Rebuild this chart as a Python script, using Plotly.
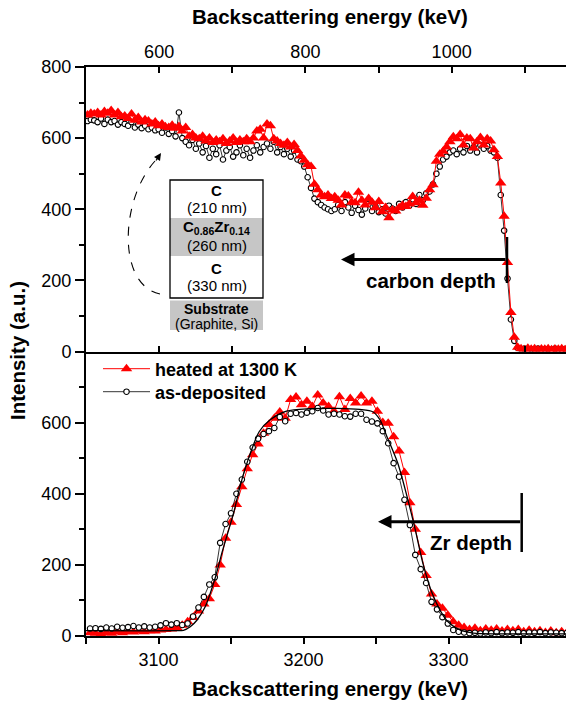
import plotly.graph_objects as go

# ---------------- data ----------------
# top panel (carbon signal); channel energies (keV), ~4.63 keV per channel
top_energy = [502 + 4.6325 * i for i in range(143)]
top_heated = [
    665, 670,
    668, 672, 665, 675, 670, 678, 665, 672, 660,
    662, 655, 668, 650, 658, 645, 652, 648, 640, 645,
    635, 640, 632, 630, 636, 628, 633, 620, 630,
    605, 610, 600,
    598, 605, 592, 600, 588, 595, 590, 598, 585, 592, 600, 588, 595, 590, 598, 590, 600,
    620, 625, 600, 640, 635,
    598, 592, 585, 580, 588, 575, 582, 565,
    550, 538, 525, 520, 470, 455, 440, 435, 440, 430,
    435, 425, 412, 440, 437, 420, 418, 448, 425, 412, 430, 420, 404, 422, 393, 405, 376, 398, 395, 404, 411, 408, 415, 436, 418, 425, 411,
    431, 455, 469, 535, 555, 563, 575, 590, 604,
    598, 610, 581, 600, 598, 572, 590, 602, 581, 598, 592, 567, 548,
    474, 380, 250, 110, 40, 12,
    8, 5, 9, 6, 8, 5, 7, 6, 8, 5, 7, 6, 8, 5, 6,
]
top_asdep = [
    648, 652,
    650, 645, 655, 640, 652, 645, 648, 638, 645,
    640, 635, 645, 630, 638, 628, 635, 625, 630, 622,
    625, 615, 630, 612, 620, 605, 672, 600, 590,
    580, 595, 570,
    585, 560, 578, 545, 570, 555, 580, 540, 565, 575, 548, 560, 580, 552, 570, 545, 565,
    580, 560, 575, 585, 570,
    590, 560, 575, 555, 570, 548, 565, 540,
    535, 520, 490, 460, 430, 420, 412, 405, 400, 395,
    400, 412, 395, 420, 405, 390, 410, 398, 385, 402, 415, 395, 408, 392, 400, 388, 410, 402, 395, 415, 405, 420, 410, 428, 415, 440, 425,
    445, 450, 470, 500, 520, 540, 548, 560, 565,
    555, 570, 560, 578, 565, 575, 560, 580, 570, 578, 565, 560, 545,
    440, 340, 205, 90, 30, 10,
    6, 8, 5, 7, 6, 8, 5, 6, 7, 5, 8, 6, 5, 7, 6,
]

# bottom panel (Zr signal); channel energies (keV), ~3.74 keV per channel
bot_energy = [3052.8 + 3.738 * i for i in range(89)]
bot_heated = [
    9,
    8, 6, 10, 8, 12, 9, 13, 11, 14, 12, 15, 14, 17, 18, 20, 24, 30, 40, 52, 70,
    90, 105, 145, 200, 275, 320, 370, 420, 470, 510, 540, 570, 595, 612, 630, 612,
    665, 672, 650, 660, 645, 678, 655, 645, 632, 673, 637, 668, 655, 675, 655, 660,
    632, 600, 598, 560, 520, 460, 375, 300, 235, 170, 118, 90, 78, 58, 40, 30, 24,
    18, 22, 15, 20, 16, 20, 14, 18, 15, 18, 12, 16, 12, 15, 10, 14, 9, 12,
    10,
]
bot_asdep = [
    21,
    22, 20, 24, 21, 26, 23, 25, 28, 24, 27, 24, 26, 30, 36, 32, 36, 31, 35, 55, 80,
    110, 145, 165, 262, 315, 345, 400, 440, 490, 530, 555, 568, 576, 585, 616, 604,
    625, 627, 623, 628, 632, 641, 634, 623, 625, 623, 618, 617, 625, 625, 608, 603,
    598, 576, 542, 486, 448, 383, 312, 228, 188, 149, 96, 75, 53, 35, 17, 12, 10,
    8, 9, 7, 10, 8, 11, 8, 10, 9, 11, 8, 10, 9, 11, 8, 10, 9, 8,
    9,
]
# simulated spectrum (smooth line)
sim_energy = [3050, 3110.7, 3117.2, 3121.9, 3126.6, 3132.2, 3138.7, 3144.3, 3151.8, 3156.5,
              3163.0, 3169.5, 3177.0, 3188.2, 3204.1, 3222.8, 3238.7, 3248.0, 3252.7, 3257.4,
              3264.9, 3271.4, 3277.0, 3282.6, 3289.2, 3298.5, 3307.9, 3317.2, 3335.0, 3385.0]
sim_counts = [15, 15, 16, 26, 45, 82, 158, 242, 346, 425,
              510, 575, 608, 632, 639, 640, 637, 630, 608, 562,
              487, 392, 300, 200, 115, 45, 17, 8, 6, 6]

top_ticks = [600, 800, 1000]
top_minor = [700, 900, 1100]
bot_ticks = [3100, 3200, 3300]
bot_minor = [3050, 3150, 3250, 3350]
y_ticks_top = [0, 200, 400, 600, 800]
y_ticks_bot = [0, 200, 400, 600]
y_minor = [100, 300, 500, 700]

# ---------------- figure ----------------
W, H = 566, 702
ML, MR, MT, MB = 86, 0, 67, 66
PW, PH = W - ML - MR, H - MT - MB


def PX(x):
    return (x - ML) / PW


def PY(y):
    return (H - MB - y) / PH


RED = "#ff0000"
FONT = "Arial, Liberation Sans, sans-serif"
circle_marker = dict(symbol="circle", size=5.5, color="white", line=dict(width=1.1, color="black"))
tri_marker = dict(symbol="triangle-up", size=10, color=RED)

fig = go.Figure()

# top panel
fig.add_trace(go.Scatter(x=top_energy, y=top_asdep, mode="lines+markers",
                         line=dict(color="black", width=0.8), marker=circle_marker,
                         xaxis="x", yaxis="y", showlegend=False))
fig.add_trace(go.Scatter(x=top_energy, y=top_heated, mode="lines+markers",
                         line=dict(color=RED, width=1), marker=tri_marker,
                         xaxis="x", yaxis="y", showlegend=False))
# bottom panel
fig.add_trace(go.Scatter(x=bot_energy, y=bot_heated, mode="lines+markers",
                         name="<b>heated at 1300 K</b>", legend="legend",
                         line=dict(color=RED, width=1), marker=tri_marker,
                         xaxis="x2", yaxis="y2"))
fig.add_trace(go.Scatter(x=bot_energy, y=bot_asdep, mode="lines+markers",
                         name="<b>as-deposited</b>", legend="legend2",
                         line=dict(color="black", width=0.8), marker=circle_marker,
                         xaxis="x2", yaxis="y2"))
fig.add_trace(go.Scatter(x=sim_energy, y=sim_counts, mode="lines",
                         line=dict(color="black", width=1.3, shape="spline", smoothing=0.8),
                         xaxis="x2", yaxis="y2", showlegend=False))

axis_common = dict(showgrid=False, zeroline=False, showline=True, linecolor="black",
                   tickcolor="black", tickfont=dict(size=18, color="black", family=FONT))

legend_common = dict(xanchor="left", yanchor="middle", bgcolor="rgba(0,0,0,0)",
                     font=dict(size=18, color="black", family=FONT), itemwidth=47)

fig.update_layout(
    width=W, height=H,
    margin=dict(l=ML, r=MR, t=MT, b=MB),
    paper_bgcolor="white", plot_bgcolor="white",
    font=dict(family=FONT, color="black"),
    xaxis=dict(domain=[0, 1], anchor="y", side="top", range=[500, 1156.4],
               tickvals=top_ticks, ticks="inside", ticklen=6, tickwidth=1.5, linewidth=2,
               mirror="ticks",
               minor=dict(tickvals=top_minor, ticks="inside", ticklen=6,
                          tickwidth=1.5, tickcolor="black"),
               **axis_common),
    yaxis=dict(domain=[0.5, 1], anchor="x", range=[0, 800], tickvals=y_ticks_top,
               ticks="outside", ticklen=9, tickwidth=1.5, linewidth=2,
               minor=dict(tickvals=y_minor, ticks="outside", ticklen=5,
                          tickwidth=1.5, tickcolor="black"),
               **axis_common),
    xaxis2=dict(domain=[0, 1], anchor="y2", range=[3050, 3381], tickvals=bot_ticks,
                ticks="outside", ticklen=6, tickwidth=1.5, linewidth=2,
                minor=dict(tickvals=bot_minor, ticks="outside", ticklen=6,
                           tickwidth=1.5, tickcolor="black"),
                **axis_common),
    yaxis2=dict(domain=[0, 0.5], anchor="x2", range=[0, 800], tickvals=y_ticks_bot,
                ticks="outside", ticklen=9, tickwidth=1.5, linewidth=2,
                minor=dict(tickvals=y_minor, ticks="outside", ticklen=5,
                           tickwidth=1.5, tickcolor="black"),
                **axis_common),
    legend=dict(x=PX(98), y=PY(369), **legend_common),
    legend2=dict(x=PX(98), y=PY(392), **legend_common),
)

shapes = []
annotations = []


def label(text, x, y, size, **kw):
    d = dict(text=text, x=PX(x), y=PY(y), xref="paper", yref="paper", showarrow=False,
             xanchor="center", yanchor="middle", font=dict(size=size, color="black", family=FONT))
    d.update(kw)
    annotations.append(d)


# axis titles
label("<b>Backscattering energy (keV)</b>", 330, 17, 20.5)
label("<b>Backscattering energy (keV)</b>", 330, 688, 20.5)
label("<b>Intensity (a.u.)</b>", 17, 351, 20.5, textangle=-90)

# carbon depth arrow
shapes.append(dict(type="line", xref="paper", yref="paper", x0=PX(507), x1=PX(507),
                   y0=PY(237), y1=PY(283), line=dict(color="black", width=2.5)))
annotations.append(dict(text="", x=PX(341), y=PY(259.5), xref="paper", yref="paper",
                        ax=166, ay=0, showarrow=True, arrowhead=2, arrowsize=0.9,
                        arrowwidth=3, arrowcolor="black"))
label("<b>carbon depth</b>", 431, 280, 20.5)

# Zr depth arrow
shapes.append(dict(type="line", xref="paper", yref="paper", x0=PX(521.7), x1=PX(521.7),
                   y0=PY(493), y1=PY(552), line=dict(color="black", width=2.5)))
annotations.append(dict(text="", x=PX(378), y=PY(521.7), xref="paper", yref="paper",
                        ax=143.7, ay=0, showarrow=True, arrowhead=2, arrowsize=0.9,
                        arrowwidth=3, arrowcolor="black"))
label("<b>Zr depth</b>", 471, 542, 20.5)

# inset: layer stack
GRAY = "#c6c6c6"
bx0, bx1 = PX(170), PX(263)
shapes.append(dict(type="rect", xref="paper", yref="paper", x0=bx0, x1=bx1,
                   y0=PY(298), y1=PY(180), fillcolor="white", line=dict(width=0)))
shapes.append(dict(type="rect", xref="paper", yref="paper", x0=bx0, x1=bx1,
                   y0=PY(256), y1=PY(218), fillcolor=GRAY, line=dict(width=0)))
shapes.append(dict(type="rect", xref="paper", yref="paper", x0=bx0, x1=bx1,
                   y0=PY(298), y1=PY(180), fillcolor="rgba(0,0,0,0)",
                   line=dict(color="black", width=1.3)))
shapes.append(dict(type="rect", xref="paper", yref="paper", x0=bx0, x1=bx1,
                   y0=PY(330), y1=PY(300.5), fillcolor=GRAY, line=dict(width=0)))

inset_lines = [
    ("<b>C</b>", 190, 15),
    ("(210 nm)", 207, 15),
    ("<b>C<sub>0.86</sub>Zr<sub>0.14</sub></b>", 228, 15),
    ("(260 nm)", 246, 15),
    ("<b>C</b>", 268, 15),
    ("(330 nm)", 285, 15),
    ("<b>Substrate</b>", 308.5, 14),
    ("(Graphite, Si)", 323.5, 14),
]
for txt, yy, fs in inset_lines:
    label(txt, 216.5, yy, fs)

# dashed curved arrow from the inset to the spectrum
p0 = (160, 294)
c1 = (117, 285)
c2 = (120, 200)
p3 = (155, 161)
path = "M {},{} C {},{} {},{} {},{}".format(PX(p0[0]), PY(p0[1]), PX(c1[0]), PY(c1[1]),
                                            PX(c2[0]), PY(c2[1]), PX(p3[0]), PY(p3[1]))
shapes.append(dict(type="path", xref="paper", yref="paper", path=path,
                   line=dict(color="black", width=1.1, dash="dash")))
annotations.append(dict(text="", x=PX(161), y=PY(153), xref="paper", yref="paper",
                        ax=-6, ay=9, showarrow=True, arrowhead=2, arrowsize=1.1,
                        arrowwidth=1.3, arrowcolor="black"))

fig.update_layout(shapes=shapes, annotations=annotations)

fig.write_html("out.html", config={"displayModeBar": False},
               post_script="document.body.style.margin='0';")
